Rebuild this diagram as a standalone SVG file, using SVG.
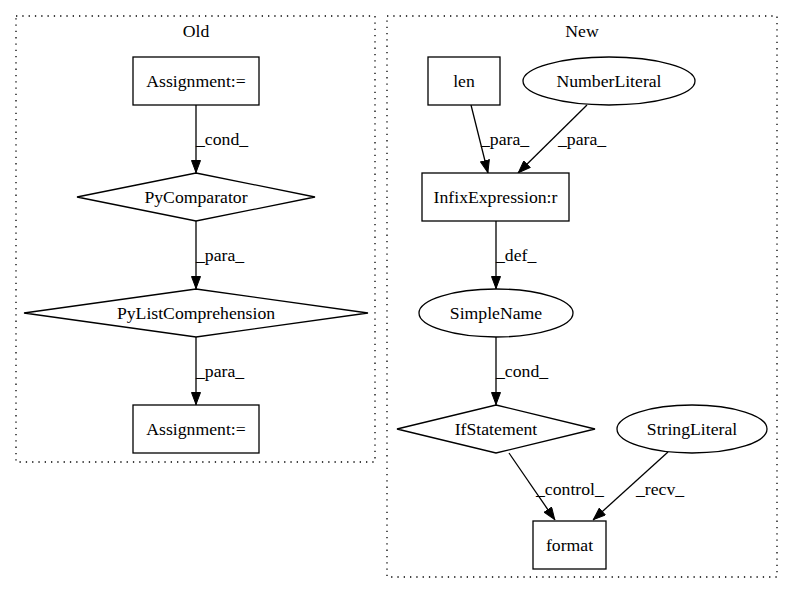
<svg xmlns="http://www.w3.org/2000/svg" width="793" height="596" viewBox="0 0 793 596">
<defs>
<marker id="arr" markerWidth="13" markerHeight="10" refX="13" refY="5" orient="auto" markerUnits="userSpaceOnUse">
<path d="M0.5,0.5 L12.5,5 L0.5,9.5 Z" fill="#000" stroke="#000" stroke-width="1"/>
</marker>
</defs>
<style>
text{font-family:"Liberation Serif","Times New Roman",serif;font-size:17.7px;fill:#000}
.c{text-anchor:middle}
.cl{fill:none;stroke:#000;stroke-dasharray:1.3,5;stroke-width:1.3}
.n{fill:#fff;stroke:#000;stroke-width:1.3}
.e{fill:none;stroke:#000;stroke-width:1.3;marker-end:url(#arr)}
</style>
<rect width="793" height="596" fill="#fff"/>
<g id="cluster_old">
<rect class="cl" x="16" y="16" width="359" height="446"/>
<text class="c" x="196" y="37">Old</text>
</g>
<g id="cluster_new">
<rect class="cl" x="387" y="16" width="390" height="561"/>
<text class="c" x="582" y="37">New</text>
</g>
<g id="connectors">
<path class="e" d="M196,105 L196,173"/>
<text x="196" y="145">_cond_</text>
<path class="e" d="M196,221 L196,289"/>
<text x="196" y="261">_para_</text>
<path class="e" d="M196,337 L196,405"/>
<text x="196" y="377">_para_</text>
<path class="e" d="M471,105 L488,173"/>
<text x="481" y="145">_para_</text>
<path class="e" d="M587,105 L518,173"/>
<text x="558" y="145">_para_</text>
<path class="e" d="M496,221 L496,289"/>
<text x="496" y="261">_def_</text>
<path class="e" d="M496,337 L496,405"/>
<text x="496" y="377">_cond_</text>
<path class="e" d="M509,453 L555,520"/>
<text x="536" y="495">_control_</text>
<path class="e" d="M668,452 L593,520"/>
<text x="636" y="495">_recv_</text>
</g>
<g id="n_assign1">
<rect class="n" x="133" y="57" width="126" height="48"/>
<text class="c" x="196" y="87">Assignment:=</text>
</g>
<g id="n_pycomparator">
<polygon class="n" points="196,173 315,197 196,221 77,197"/>
<text class="c" x="196" y="203">PyComparator</text>
</g>
<g id="n_pylistcomp">
<polygon class="n" points="196,289 368,313 196,337 24,313"/>
<text class="c" x="196" y="319">PyListComprehension</text>
</g>
<g id="n_assign2">
<rect class="n" x="133" y="405" width="126" height="48"/>
<text class="c" x="196" y="435">Assignment:=</text>
</g>
<g id="n_len">
<rect class="n" x="428" y="57" width="72" height="48"/>
<text class="c" x="464" y="87">len</text>
</g>
<g id="n_numberliteral">
<ellipse class="n" cx="609" cy="81" rx="86" ry="24"/>
<text class="c" x="609" y="87">NumberLiteral</text>
</g>
<g id="n_infix">
<rect class="n" x="422" y="173" width="147" height="48"/>
<text class="c" x="495.5" y="203">InfixExpression:r</text>
</g>
<g id="n_simplename">
<ellipse class="n" cx="496" cy="313" rx="77" ry="24"/>
<text class="c" x="496" y="319">SimpleName</text>
</g>
<g id="n_ifstatement">
<polygon class="n" points="496,405 595,429 496,453 397,429"/>
<text class="c" x="496" y="435">IfStatement</text>
</g>
<g id="n_stringliteral">
<ellipse class="n" cx="692" cy="429" rx="75" ry="24"/>
<text class="c" x="692" y="435">StringLiteral</text>
</g>
<g id="n_format">
<rect class="n" x="533" y="521" width="73" height="48"/>
<text class="c" x="569.5" y="551">format</text>
</g>
</svg>
